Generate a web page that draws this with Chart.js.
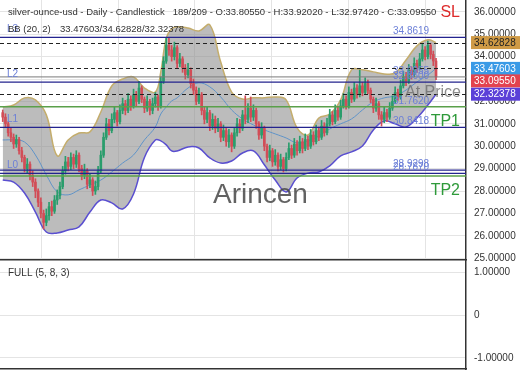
<!DOCTYPE html>
<html>
<head>
<meta charset="utf-8">
<script src="https://cdn.jsdelivr.net/npm/chart.js@4.4.1/dist/chart.umd.min.js"></script>
<style>
body { margin: 0; background: #fff; }
#wrap { position: relative; width: 520px; height: 390px; }
#main { position: absolute; left: 0; top: 0; }
#osc { position: absolute; left: 0; top: 261px; }
</style>
</head>
<body>
<div id="wrap">
<canvas id="main" width="520" height="261"></canvas>
<canvas id="osc" width="520" height="129"></canvas>
</div>
<script>
// daily candles
const opens = [
31.50,31.30,31.00,30.60,30.40,30.10,30.30,29.80,29.50,29.00,
29.20,28.70,28.40,28.00,27.50,27.00,26.60,26.90,27.30,27.10,
27.60,27.80,28.20,28.90,29.30,29.10,29.50,29.20,29.60,29.00,
28.70,28.90,28.30,28.50,28.00,28.20,28.90,29.60,30.40,31.00,
30.70,31.20,31.50,31.10,31.60,31.90,31.60,32.10,31.80,32.30,
32.00,32.60,32.10,31.70,32.00,31.60,31.90,32.20,31.80,32.90,
33.80,34.50,34.30,34.00,34.40,33.70,33.90,33.50,33.20,33.40,
32.80,32.50,32.00,32.30,31.60,31.20,31.50,30.90,31.20,30.80,
31.00,30.40,30.70,30.20,30.50,30.00,30.60,31.00,30.80,31.40,
31.20,31.70,31.30,31.60,31.00,30.50,30.80,30.00,29.50,29.80,
29.30,29.60,29.10,29.40,29.00,29.50,29.90,29.60,30.10,29.80,
30.20,29.90,30.30,30.00,30.50,30.20,30.70,30.40,30.90,30.60,
31.00,31.40,31.10,31.60,31.30,31.80,32.10,31.80,32.40,32.10,
32.60,32.30,32.70,32.40,32.80,32.50,32.10,31.70,31.90,31.40,
31.20,31.50,31.30,31.70,32.00,32.40,32.20,32.70,33.10,32.90,
33.40,33.20,33.70,33.50,33.90,34.30,34.00,34.50,34.10,33.8055];
const highs = [
31.62,31.45,31.10,30.80,30.55,30.50,30.40,29.95,29.60,29.45,
29.30,28.90,28.55,28.10,27.70,27.15,27.20,27.50,27.55,27.80,
28.05,28.40,29.10,29.55,29.50,29.70,29.65,29.80,29.70,29.15,
29.20,29.00,28.75,28.60,28.45,29.10,29.80,30.60,31.25,31.20,
31.45,31.75,31.60,31.85,32.15,32.05,32.35,32.25,32.55,32.45,
32.90,32.70,32.20,32.25,32.10,32.15,32.40,32.30,33.10,34.00,
34.86,34.86,34.50,34.65,34.50,34.15,34.00,33.65,33.70,33.50,
33.00,32.65,32.60,32.40,31.75,31.75,31.60,31.45,31.35,31.25,
31.10,30.95,30.80,30.75,30.60,30.80,31.25,31.20,31.60,32.25,
31.90,32.20,31.85,31.70,31.10,31.05,30.90,30.10,30.05,29.90,
29.85,29.70,29.65,29.50,29.70,30.15,30.05,30.35,30.25,30.45,
30.35,30.55,30.45,30.75,30.65,30.95,30.85,31.15,31.05,31.25,
31.65,31.55,31.85,31.75,32.05,32.35,32.25,32.65,32.55,32.85,
32.75,33.40,32.85,33.05,32.95,32.60,32.20,32.15,32.00,31.55,
31.75,31.65,31.95,32.25,32.65,32.55,32.95,33.35,33.30,33.65,
33.55,33.95,33.85,34.15,34.55,34.45,34.70,34.60,34.25,33.9202];
const lows = [
31.10,30.85,30.45,30.20,29.90,29.95,29.65,29.30,28.85,28.80,
28.50,28.20,27.70,27.30,26.80,26.30,26.45,26.70,26.90,27.00,
27.40,27.65,28.10,28.75,28.90,28.95,29.00,29.05,28.85,28.50,
28.55,28.10,28.15,27.80,27.85,28.05,28.80,29.50,30.30,30.50,
30.60,31.05,30.90,31.00,31.45,31.40,31.50,31.60,31.70,31.80,
31.90,31.95,31.50,31.55,31.40,31.45,31.75,31.60,31.70,32.80,
33.70,34.05,33.80,33.85,33.50,33.55,33.30,33.00,33.05,32.60,
32.30,31.85,31.90,31.40,31.00,31.05,30.70,30.75,30.60,30.65,
30.20,30.25,30.00,29.95,29.75,29.90,30.45,30.60,30.70,31.00,
31.05,31.10,31.15,30.80,30.30,30.35,29.80,29.30,29.35,29.10,
29.15,28.90,28.95,28.85,28.90,29.40,29.45,29.50,29.60,29.70,
29.70,29.80,29.85,29.90,30.05,30.10,30.25,30.30,30.45,30.50,
30.90,30.95,31.00,31.15,31.20,31.70,31.65,31.70,31.95,32.00,
32.15,32.20,32.25,32.30,32.35,31.95,31.50,31.55,31.20,30.90,
31.05,31.10,31.20,31.60,31.90,32.05,32.10,32.60,32.70,32.80,
33.00,33.10,33.30,33.40,33.80,33.85,33.90,33.90,33.60,32.9742];
const closes = [
31.30,31.00,30.60,30.40,30.10,30.30,29.80,29.50,29.00,29.20,
28.70,28.40,28.00,27.50,27.00,26.60,26.90,27.30,27.10,27.60,
27.80,28.20,28.90,29.30,29.10,29.50,29.20,29.60,29.00,28.70,
28.90,28.30,28.50,28.00,28.20,28.90,29.60,30.40,31.00,30.70,
31.20,31.50,31.10,31.60,31.90,31.60,32.10,31.80,32.30,32.00,
32.60,32.10,31.70,32.00,31.60,31.90,32.20,31.80,32.90,33.80,
34.50,34.30,34.00,34.40,33.70,33.90,33.50,33.20,33.40,32.80,
32.50,32.00,32.30,31.60,31.20,31.50,30.90,31.20,30.80,31.00,
30.40,30.70,30.20,30.50,30.00,30.60,31.00,30.80,31.40,31.20,
31.70,31.30,31.60,31.00,30.50,30.80,30.00,29.50,29.80,29.30,
29.60,29.10,29.40,29.00,29.50,29.90,29.60,30.10,29.80,30.20,
29.90,30.30,30.00,30.50,30.20,30.70,30.40,30.90,30.60,31.00,
31.40,31.10,31.60,31.30,31.80,32.10,31.80,32.40,32.10,32.60,
32.30,32.70,32.40,32.80,32.50,32.10,31.70,31.90,31.40,31.20,
31.50,31.30,31.70,32.00,32.40,32.20,32.70,33.10,32.90,33.40,
33.20,33.70,33.50,33.90,34.30,34.00,34.50,34.10,33.8055,33.0955];

// bollinger band (20, 2), sampled along the curve
const bbIdx = [0,4,8,12,16,20,24,28,32,36,40,44,48,52,56,58,60,62,64,68,72,76,80,84,88,92,96,100,104,108,112,116,120,124,128,132,136,140,144,148,152,156,159];
const bbUpper = [31.75,31.84,32.16,32.07,31.40,29.57,30.28,30.59,30.64,31.53,32.69,33.00,33.09,32.60,32.42,33.32,34.83,35.24,35.33,35.28,35.15,35.42,33.76,32.42,32.11,32.16,32.16,32.20,32.07,30.82,30.50,31.26,31.44,32.07,33.41,33.41,33.32,33.23,33.27,33.85,34.48,34.75,34.62828];
const bbMid = [30.28,30.28,30.19,29.61,28.72,27.96,27.83,28.05,28.27,28.49,28.85,29.25,29.61,30.28,30.86,31.44,31.75,32.02,32.16,32.60,32.83,32.65,32.20,31.62,31.22,30.95,30.73,30.55,30.37,30.15,30.24,30.46,30.77,31.00,31.22,31.62,31.98,32.16,32.25,32.51,32.87,33.18,33.47603];
const bbLower = [28.49,28.40,27.91,27.06,26.17,26.13,26.26,26.40,27.06,27.60,27.47,27.20,27.87,29.50,30.28,30.24,30.06,29.79,29.79,29.97,29.92,29.48,29.25,29.34,29.70,29.79,29.17,28.49,27.96,28.58,28.80,28.85,29.12,29.57,29.75,30.01,30.73,31.13,31.00,30.86,31.26,31.84,32.32378];
const bbLast = [33.47603, 34.62828, 32.32378]; // mid / upper / lower

// levels
const levelValues = [34.8619, 32.8600, 30.8418, 28.9298, 28.7870];
const levelNames = ['L3', 'L2', 'L1', '', 'L0'];
const tpValues = [31.7620, 28.6700];
const tpNames = ['TP1', 'TP2'];
const slValue = 34.8619;
const priceTicks = [25, 26, 27, 28, 29, 30, 31, 32, 33, 34, 35, 36];
const oscTicks = [-1, 0, 1];
const gridIdx = [28.3, 56.5, 84.3, 113, 141.1];

const n = closes.length - 1;
const FONT = '"Liberation Sans", Arial, sans-serif';
Chart.defaults.font.family = FONT;
Chart.defaults.font.size = 10;
Chart.defaults.color = '#333';

const UP = '#2a9d6c', DOWN = '#d24d57';
const candleColors = closes.map((c, i) => c >= opens[i] ? UP : DOWN);

function hline(ctx, a, py, color, width, dash) {
    ctx.strokeStyle = color;
    ctx.lineWidth = width;
    ctx.setLineDash(dash || []);
    ctx.beginPath();
    ctx.moveTo(a.left, py);
    ctx.lineTo(a.right, py);
    ctx.stroke();
}

function noPad(s) {
    s.paddingTop = 0;
    s.paddingBottom = 0;
}

const overlay = {
    id: 'overlay',
    afterDatasetsDraw(chart) {
        const { ctx, chartArea: a, scales: { y } } = chart;
        ctx.save();
        ctx.beginPath();
        ctx.rect(a.left, a.top, a.right - a.left, a.bottom - a.top);
        ctx.clip();
        bbLast.forEach(v => hline(ctx, a, Math.round(y.getPixelForValue(v)) + 0.5, '#222', 1, [4, 3]));
        ctx.setLineDash([]);
        hline(ctx, a, y.getPixelForValue(closes[n]), '#7a7a7a', 1);
        levelValues.forEach(v => hline(ctx, a, y.getPixelForValue(v), '#23238e', 1.3));
        tpValues.forEach(v => hline(ctx, a, y.getPixelForValue(v), '#5aa04a', 1.5));

        ctx.font = '10px ' + FONT;
        ctx.textBaseline = 'bottom';
        ctx.fillStyle = '#6b7fd7';
        ctx.textAlign = 'left';
        levelValues.forEach((v, i) => {
            const py = y.getPixelForValue(v);
            if (levelNames[i]) ctx.fillText(levelNames[i], 7, py - 3);
            ctx.fillText(v.toFixed(4), 393, py - 1);
        });
        ctx.fillText(closes[n].toFixed(4), 393, y.getPixelForValue(closes[n]) - 1);
        ctx.fillText(tpValues[0].toFixed(4), 393, y.getPixelForValue(tpValues[0]) - 1);

        ctx.textBaseline = 'alphabetic';
        ctx.font = '28px ' + FONT;
        ctx.fillStyle = 'rgba(70,70,70,0.85)';
        ctx.fillText('Arincen', 213, 203);
        ctx.font = '16px ' + FONT;
        ctx.fillStyle = 'rgba(110,110,110,0.8)';
        ctx.fillText('At Price', 405, 97);
        ctx.textAlign = 'right';
        ctx.fillStyle = '#dd2a2a';
        ctx.fillText('SL', 460, y.getPixelForValue(slValue) - 20);
        ctx.fillStyle = '#2e9a3a';
        tpValues.forEach((v, i) => ctx.fillText(tpNames[i], 460, y.getPixelForValue(v) + 19));
        ctx.restore();
    },
    afterDraw(chart) {
        const { ctx, scales: { y } } = chart;
        ctx.save();
        ctx.font = '9.5px ' + FONT;
        ctx.textBaseline = 'middle';
        ctx.textAlign = 'left';
        ctx.fillStyle = '#333';
        ctx.fillText('silver-ounce-usd - Daily - Candlestick   ' + (n + 30) + '/209 - O:' + opens[n].toFixed(5) +
            ' - H:' + highs[n].toFixed(5) + ' - L:' + lows[n].toFixed(5) + ' - C:' + closes[n].toFixed(5), 8, 12);
        ctx.fillText('BB (20, 2)', 8, 29);
        ctx.fillText(bbLast.map(v => v.toFixed(5)).join('/'), 60, 29);

        // value boxes on the price axis
        ctx.font = '10px ' + FONT;
        const boxes = [
            { v: bbLast[1], bg: '#cf9a45', fg: '#222' },
            { v: bbLast[0], bg: '#3a9ae6', fg: '#fff' },
            { v: closes[n], bg: '#e3434f', fg: '#fff' },
            { v: bbLast[2], bg: '#5b40d8', fg: '#fff' }
        ];
        let last = -99;
        boxes.forEach(b => {
            let py = y.getPixelForValue(b.v);
            if (py < last + 12.5) py = last + 12.5;
            last = py;
            ctx.fillStyle = b.bg;
            ctx.fillRect(471, py - 6.5, 49, 13);
            ctx.fillStyle = b.fg;
            ctx.fillText(b.v.toFixed(5), 474, py + 0.5);
        });
        ctx.restore();
    }
};

new Chart(document.getElementById('main'), {
    type: 'bar',
    data: {
        datasets: [
            {
                data: closes.map((c, i) => ({ x: i, y: [opens[i], c] })),
                backgroundColor: candleColors, barThickness: 2, minBarLength: 1, order: 0
            },
            {
                data: closes.map((c, i) => ({ x: i, y: [lows[i], highs[i]] })),
                backgroundColor: candleColors, barThickness: 1, order: 1
            },
            {
                type: 'line', data: bbIdx.map((x, k) => ({ x, y: bbUpper[k] })),
                borderColor: '#c4ad6c', borderWidth: 1.5, pointRadius: 0, tension: 0.4,
                fill: 4, backgroundColor: 'rgba(140,140,140,0.58)', order: 4
            },
            {
                type: 'line', data: bbIdx.map((x, k) => ({ x, y: bbMid[k] })),
                borderColor: '#5f93c8', borderWidth: 1, pointRadius: 0, tension: 0.4, fill: false, order: 2
            },
            {
                type: 'line', data: bbIdx.map((x, k) => ({ x, y: bbLower[k] })),
                borderColor: '#5a4fd0', borderWidth: 1.5, pointRadius: 0, tension: 0.4, fill: false, order: 3
            }
        ]
    },
    options: {
        responsive: false,
        animation: false,
        devicePixelRatio: 1,
        layout: { padding: 0 },
        plugins: { legend: { display: false }, tooltip: { enabled: false } },
        datasets: { bar: { grouped: false } },
        scales: {
            x: {
                type: 'linear', min: -1, max: 170, offset: false,
                afterBuildTicks: s => { s.ticks = gridIdx.map(v => ({ value: v })); },
                afterFit: s => { s.height = 1; s.paddingLeft = 0; s.paddingRight = 0; },
                ticks: { display: false },
                grid: { color: '#e4e4e4', drawTicks: false },
                border: { display: true, color: '#333', width: 1.5 }
            },
            y: {
                position: 'right', min: 24.92, max: 36.53,
                afterBuildTicks: s => { s.ticks = priceTicks.map(v => ({ value: v })); },
                afterFit: s => { s.width = 54; noPad(s); },
                ticks: { padding: 8, callback: v => v.toFixed(5) },
                grid: { color: '#e4e4e4', drawTicks: false },
                border: { display: true, color: '#333', width: 1.5 }
            }
        }
    },
    plugins: [overlay]
});

new Chart(document.getElementById('osc'), {
    type: 'line',
    data: { datasets: [{ data: [] }] },
    options: {
        responsive: false,
        animation: false,
        devicePixelRatio: 1,
        layout: { padding: { bottom: 20 } },
        plugins: { legend: { display: false }, tooltip: { enabled: false } },
        scales: {
            x: {
                type: 'linear', min: -1, max: 170,
                afterFit: s => { s.height = 1; s.paddingLeft = 0; s.paddingRight = 0; },
                ticks: { display: false },
                grid: { display: false },
                border: { display: true, color: '#333', width: 1.5 }
            },
            y: {
                position: 'right', min: -1.256, max: 1.256,
                afterBuildTicks: s => { s.ticks = oscTicks.map(v => ({ value: v })); },
                afterFit: s => { s.width = 54; noPad(s); },
                ticks: { padding: 8, callback: v => v === 0 ? '0' : v.toFixed(5) },
                grid: { color: '#e4e4e4', drawTicks: false },
                border: { display: true, color: '#333', width: 1.5 }
            }
        }
    },
    plugins: [{
        id: 'oscTitle',
        afterDraw(chart) {
            const ctx = chart.ctx;
            ctx.save();
            ctx.font = '10px ' + FONT;
            ctx.fillStyle = '#333';
            ctx.textBaseline = 'middle';
            ctx.fillText('FULL (5, 8, 3)', 8, 12);
            ctx.restore();
        }
    }]
});
</script>
</body>
</html>
